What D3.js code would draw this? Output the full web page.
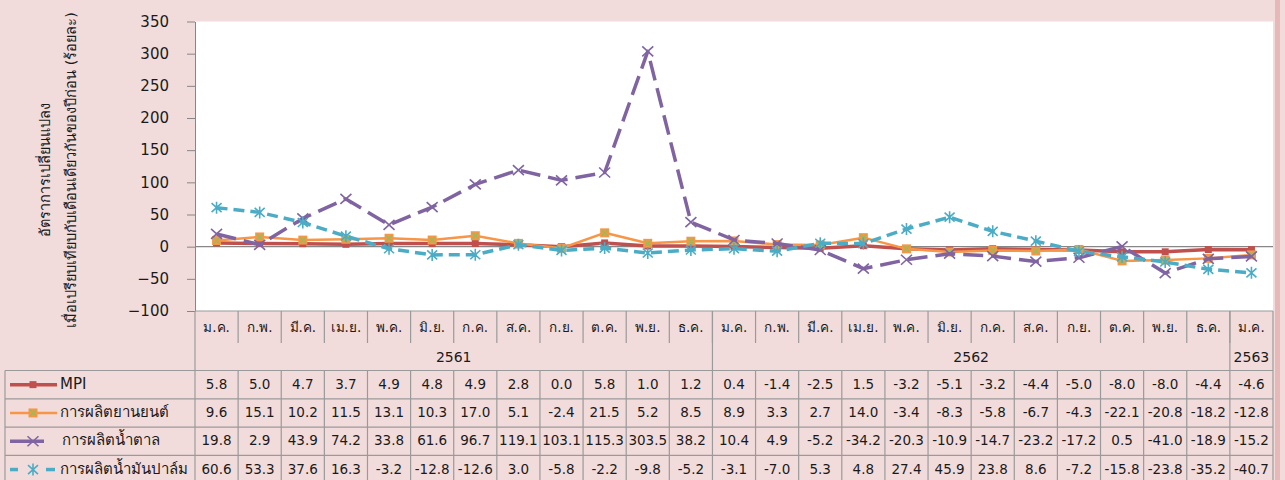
<!DOCTYPE html>
<html>
<head>
<meta charset="utf-8">
<script src="https://cdn.jsdelivr.net/npm/d3@7"></script>
<style>
  body { margin: 0; background: #f2dcdb; }
  svg { display: block; }
  text { font-family: Tahoma, "DejaVu Sans", "Noto Sans", sans-serif; fill: #1a1a1a; }
</style>
</head>
<body>
<div id="container"></div>
<script>
// Month labels (25 months, Jan 2561 - Jan 2563)
const months = ['ม.ค.','ก.พ.','มี.ค.','เม.ย.','พ.ค.','มิ.ย.','ก.ค.','ส.ค.','ก.ย.','ต.ค.','พ.ย.','ธ.ค.',
                'ม.ค.','ก.พ.','มี.ค.','เม.ย.','พ.ค.','มิ.ย.','ก.ค.','ส.ค.','ก.ย.','ต.ค.','พ.ย.','ธ.ค.',
                'ม.ค.'];
// Year groups: label and number of months
const years = [['2561', 12], ['2562', 12], ['2563', 1]];
const yTicks = [-100, -50, 0, 50, 100, 150, 200, 250, 300, 350];

const seriesNames = ['MPI', 'การผลิตยานยนต์', 'การผลิตน้ำตาล', 'การผลิตน้ำมันปาล์ม'];
const mpi   = [5.8, 5.0, 4.7, 3.7, 4.9, 4.8, 4.9, 2.8, 0.0, 5.8, 1.0, 1.2, 0.4, -1.4, -2.5, 1.5, -3.2, -5.1, -3.2, -4.4, -5.0, -8.0, -8.0, -4.4, -4.6];
const car   = [9.6, 15.1, 10.2, 11.5, 13.1, 10.3, 17.0, 5.1, -2.4, 21.5, 5.2, 8.5, 8.9, 3.3, 2.7, 14.0, -3.4, -8.3, -5.8, -6.7, -4.3, -22.1, -20.8, -18.2, -12.8];
const sugar = [19.8, 2.9, 43.9, 74.2, 33.8, 61.6, 96.7, 119.1, 103.1, 115.3, 303.5, 38.2, 10.4, 4.9, -5.2, -34.2, -20.3, -10.9, -14.7, -23.2, -17.2, 0.5, -41.0, -18.9, -15.2];
const palm  = [60.6, 53.3, 37.6, 16.3, -3.2, -12.8, -12.6, 3.0, -5.8, -2.2, -9.8, -5.2, -3.1, -7.0, 5.3, 4.8, 27.4, 45.9, 23.8, 8.6, -7.2, -15.8, -23.8, -35.2, -40.7];

// Styles for each series (kept apart from the data)
const styles = [
  { color: '#c0504d', width: 3.5, dash: null,    marker: 'square' },
  { color: '#f79646', width: 2.5, dash: null,    marker: 'squareX' },
  { color: '#8064a2', width: 3.5, dash: '20,8',  marker: 'x' },
  { color: '#4bacc6', width: 3.5, dash: '11,6',  marker: 'star' }
];
const values = [mpi, car, sugar, palm];

const W = 1285, H = 480;
const svg = d3.select('#container').append('svg').attr('width', W).attr('height', H);

// Background and right border strip
svg.append('rect').attr('width', W).attr('height', H).attr('fill', '#f2dcdb');
svg.append('rect').attr('x', 1275).attr('y', 0).attr('width', 5).attr('height', H).attr('fill', '#e6b9b8');

const plotLeft = 195, plotRight = 1273, plotTop = 21.5, plotBottom = 311;

const x = d3.scaleBand().domain(d3.range(months.length)).range([plotLeft, plotRight]);
const y = d3.scaleLinear().domain([-100, 350]).range([plotBottom, plotTop]);
const cx = i => x(i) + x.bandwidth() / 2;

// White plot area
svg.append('rect')
  .attr('x', plotLeft).attr('y', plotTop)
  .attr('width', plotRight - plotLeft).attr('height', plotBottom - plotTop)
  .attr('fill', '#ffffff');

// Y axis
const yAxis = svg.append('g')
  .attr('transform', `translate(${plotLeft},0)`)
  .call(d3.axisLeft(y).tickValues(yTicks).tickSize(8).tickPadding(18).tickSizeOuter(0));
yAxis.select('.domain').attr('stroke', '#868686');
yAxis.selectAll('.tick line').attr('stroke', '#868686');
yAxis.selectAll('.tick text').attr('font-size', 15).attr('fill', '#1a1a1a')
  .style('font-family', 'Verdana, "DejaVu Sans", sans-serif');

// Y axis title (two lines)
const titleLines = ['อัตราการเปลี่ยนแปลง', 'เมื่อเปรียบเทียบกับเดือนเดียวกันของปีก่อน (ร้อยละ)'];
svg.selectAll('.ytitle').data(titleLines).enter().append('text')
  .attr('class', 'ytitle')
  .attr('transform', (d, i) => `translate(${[50, 76][i]},170) rotate(-90)`)
  .attr('text-anchor', 'middle')
  .attr('font-size', 14.5)
  .text(d => d);

// Zero line
svg.append('line')
  .attr('x1', plotLeft).attr('x2', plotRight)
  .attr('y1', y(0)).attr('y2', y(0))
  .attr('stroke', '#868686').attr('stroke-width', 1.2);

// Marker drawing helper
function drawMarker(g, type, color, px, py) {
  if (type === 'square') {
    g.append('rect').attr('x', px - 3.5).attr('y', py - 3.5).attr('width', 7).attr('height', 7).attr('fill', color);
  } else if (type === 'squareX') {
    g.append('rect').attr('x', px - 4.5).attr('y', py - 4.5).attr('width', 9).attr('height', 9).attr('fill', color);
    g.append('path').attr('d', `M${px - 3},${py - 3}L${px + 3},${py + 3}M${px - 3},${py + 3}L${px + 3},${py - 3}`)
      .attr('stroke', '#9bbb59').attr('stroke-width', 1.6);
  } else if (type === 'x') {
    g.append('path').attr('d', `M${px - 5.5},${py - 5}L${px + 5.5},${py + 5}M${px - 5.5},${py + 5}L${px + 5.5},${py - 5}`)
      .attr('stroke', color).attr('stroke-width', 1.6);
  } else if (type === 'star') {
    g.append('path').attr('d', `M${px - 5},${py - 4.5}L${px + 5},${py + 4.5}M${px - 5},${py + 4.5}L${px + 5},${py - 4.5}M${px},${py - 6}L${px},${py + 6}`)
      .attr('stroke', color).attr('stroke-width', 1.6);
  }
}

// Series lines and markers
const line = d3.line().x((d, i) => cx(i)).y(d => y(d));
values.forEach((vals, s) => {
  const st = styles[s];
  const g = svg.append('g');
  g.append('path')
    .datum(vals)
    .attr('d', line)
    .attr('fill', 'none')
    .attr('stroke', st.color)
    .attr('stroke-width', st.width)
    .attr('stroke-dasharray', st.dash)
    .attr('stroke-linejoin', 'round');
  vals.forEach((v, i) => drawMarker(g, st.marker, st.color, cx(i), y(v)));
});

// ---- Data table below the plot ----
const gridColor = '#9a9a9a';
const tableLeft = 5;
const monthRowBottom = 343, yearRowBottom = 370.5;
const rowH = 28.3;
const grid = svg.append('g').attr('stroke', gridColor).attr('stroke-width', 1.2);

// plot bottom border
grid.append('line').attr('x1', plotLeft).attr('x2', plotRight).attr('y1', plotBottom).attr('y2', plotBottom);
// month dividers
d3.range(1, months.length).forEach(i => {
  grid.append('line').attr('x1', x(i)).attr('x2', x(i)).attr('y1', plotBottom).attr('y2', monthRowBottom);
});
// year group labels and dividers
let acc = 0;
years.forEach(([yr, n]) => {
  const x0 = x(acc), x1 = acc + n < months.length ? x(acc + n) : plotRight;
  svg.append('text').attr('x', (x0 + x1) / 2).attr('y', 362)
    .attr('text-anchor', 'middle').attr('font-size', 14).text(yr);
  acc += n;
  if (acc < months.length) grid.append('line').attr('x1', x(acc)).attr('x2', x(acc)).attr('y1', plotBottom).attr('y2', yearRowBottom);
});
// outer verticals of the axis table
grid.append('line').attr('x1', plotLeft).attr('x2', plotLeft).attr('y1', plotBottom).attr('y2', H);
grid.append('line').attr('x1', plotRight).attr('x2', plotRight).attr('y1', plotBottom).attr('y2', H);

// month labels
svg.selectAll('.month').data(months).enter().append('text')
  .attr('class', 'month')
  .attr('x', (d, i) => cx(i)).attr('y', 332)
  .attr('text-anchor', 'middle').attr('font-size', 13.5)
  .text(d => d);

// data rows
const rowTops = d3.range(values.length + 1).map(r => yearRowBottom + r * rowH);
rowTops.forEach(t => {
  grid.append('line').attr('x1', tableLeft).attr('x2', plotRight).attr('y1', t).attr('y2', t);
});
grid.append('line').attr('x1', tableLeft).attr('x2', tableLeft).attr('y1', yearRowBottom).attr('y2', H);
d3.range(1, months.length).forEach(i => {
  grid.append('line').attr('x1', x(i)).attr('x2', x(i)).attr('y1', yearRowBottom).attr('y2', H);
});

values.forEach((vals, s) => {
  const top = rowTops[s];
  const mid = top + rowH / 2;
  const st = styles[s];
  // legend key
  const lg = svg.append('g');
  if (s === 3) {
    lg.append('line').attr('x1', 10).attr('x2', 18).attr('y1', mid).attr('y2', mid).attr('stroke', st.color).attr('stroke-width', st.width);
    lg.append('line').attr('x1', 46).attr('x2', 55).attr('y1', mid).attr('y2', mid).attr('stroke', st.color).attr('stroke-width', st.width);
  } else {
    lg.append('line').attr('x1', 10).attr('x2', s === 2 ? 44 : 57).attr('y1', mid).attr('y2', mid)
      .attr('stroke', st.color).attr('stroke-width', st.width);
  }
  drawMarker(lg, st.marker, st.color, 33, mid);
  svg.append('text').attr('x', s === 2 ? 62 : 60).attr('y', mid + 4).attr('font-size', 15).text(seriesNames[s]);
  // values
  svg.selectAll(null).data(vals).enter().append('text')
    .attr('x', (d, i) => cx(i)).attr('y', mid + 4)
    .attr('text-anchor', 'middle').attr('font-size', 13.5)
    .style('font-family', 'Verdana, "DejaVu Sans", sans-serif')
    .text(d => d.toFixed(1));
});
</script>
</body>
</html>
